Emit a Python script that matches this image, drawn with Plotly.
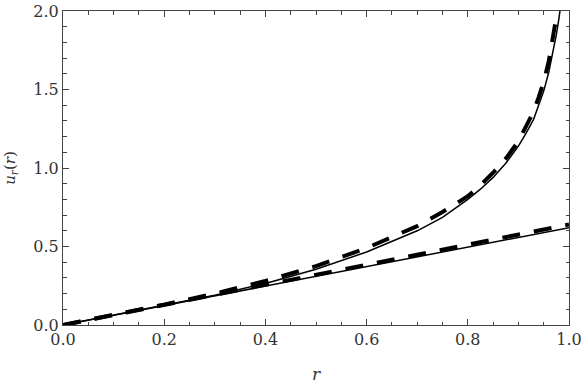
import plotly.graph_objects as go

r_upper = [0.0, 0.1, 0.2, 0.3, 0.4, 0.5, 0.6, 0.7, 0.75, 0.8, 0.825, 0.85, 0.875, 0.9, 0.915, 0.93, 0.94, 0.95, 0.96, 0.97, 0.975, 0.98, 0.985]
u_upper_solid = [0.0, 0.062, 0.125, 0.19, 0.265, 0.355, 0.465, 0.60, 0.685, 0.80, 0.865, 0.94, 1.03, 1.14, 1.22, 1.31, 1.40, 1.49, 1.61, 1.76, 1.85, 1.95, 2.07]
u_upper_dashed = [0.0, 0.064, 0.13, 0.20, 0.28, 0.375, 0.49, 0.63, 0.72, 0.82, 0.89, 0.97, 1.06, 1.17, 1.26, 1.36, 1.45, 1.55, 1.68, 1.85, 1.95, 2.05, 2.15]

r_lower = [0.0, 0.25, 0.5, 0.75, 1.0]
u_lower_solid = [0.0, 0.155, 0.31, 0.465, 0.62]
u_lower_dashed = [0.0, 0.16, 0.32, 0.48, 0.64]

x_ticks = [0.0, 0.2, 0.4, 0.6, 0.8, 1.0]
y_ticks = [0.0, 0.5, 1.0, 1.5, 2.0]

SERIF = "DejaVu Serif"

fig = go.Figure()
fig.add_trace(go.Scatter(x=r_lower, y=u_lower_solid, mode="lines",
                         line=dict(color="black", width=1.5)))
fig.add_trace(go.Scatter(x=r_upper, y=u_upper_solid, mode="lines",
                         line=dict(color="black", width=1.5)))
fig.add_trace(go.Scatter(x=r_lower, y=u_lower_dashed, mode="lines",
                         line=dict(color="black", width=4, dash="18px,14px")))
fig.add_trace(go.Scatter(x=r_upper, y=u_upper_dashed, mode="lines",
                         line=dict(color="black", width=4, dash="18px,14px")))

axis_common = dict(
    showgrid=False, zeroline=False, showline=True, linecolor="#444", linewidth=1,
    mirror="allticks", ticks="inside", ticklen=6, tickcolor="#444", tickwidth=1,
    automargin=False, ticklabeloverflow="allow",
    tickfont=dict(family=SERIF, size=16, color="#333"),
)

fig.update_xaxes(range=[0, 1], tickvals=x_ticks, ticktext=[f"{v:.1f}" for v in x_ticks],
                 minor=dict(dtick=0.05, ticks="inside", ticklen=3.5, tickcolor="#444"),
                 title=dict(text="<i>r</i>", font=dict(family=SERIF, size=17, color="#333"),
                            standoff=26),
                 **axis_common)
fig.update_yaxes(range=[0, 2], tickvals=y_ticks, ticktext=[f"{v:.1f}" for v in y_ticks],
                 minor=dict(dtick=0.1, ticks="inside", ticklen=3.5, tickcolor="#444"),
                 title=dict(text="<i>u</i><sub><i>r</i></sub>(<i>r</i>)",
                            font=dict(family=SERIF, size=15, color="#333"),
                            standoff=14),
                 **axis_common)

fig.update_layout(width=585, height=384, margin=dict(l=63, r=16, t=11, b=59),
                  plot_bgcolor="white", paper_bgcolor="white", showlegend=False)

fig.write_html("out.html")
